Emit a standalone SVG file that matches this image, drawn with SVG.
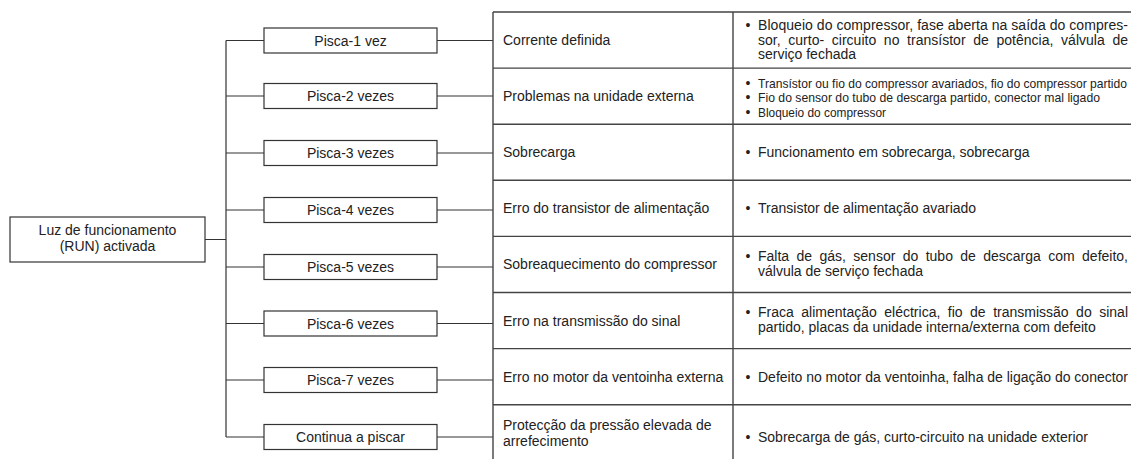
<svg xmlns="http://www.w3.org/2000/svg" width="1131" height="459" viewBox="0 0 1131 459">
<style>
  text { font-family: "Liberation Sans", Arial, sans-serif; font-size: 14px; fill: #222; }
  .c { text-anchor: middle; }
  .n { font-size: 13px; }
  .box { fill: #fff; stroke: #333; stroke-width: 1.2; }
  .ln { fill: none; stroke: #333; stroke-width: 1.2; }
  .tb { fill: none; stroke: #444; stroke-width: 1.4; }
</style>
<rect width="1131" height="459" fill="#fff"/>

<g id="connectors">
  <path class="ln" d="M205,239.5 H226 M226,40.5 V437 M226,40.5 H264 M226,96 H264 M226,153 H264 M226,210 H264 M226,267 H264 M226,323.5 H264 M226,380 H264 M226,437 H264"/>
  <path class="ln" d="M437,40.5 H493 M437,96 H493 M437,153 H493 M437,210 H493 M437,267 H493 M437,323.5 H493 M437,380 H493 M437,437 H493"/>
</g>

<g id="root">
  <rect class="box" x="10" y="217" width="195" height="45"/>
  <text class="c" x="107.5" y="235">Luz de funcionamento</text>
  <text class="c" x="107.5" y="250.5">(RUN) activada</text>
</g>

<g id="pisca1"><rect class="box" x="264" y="28" width="173" height="25"/><text class="c" x="350.5" y="45.5">Pisca-1 vez</text></g>
<g id="pisca2"><rect class="box" x="264" y="83.5" width="173" height="25"/><text class="c" x="350.5" y="101">Pisca-2 vezes</text></g>
<g id="pisca3"><rect class="box" x="264" y="140.5" width="173" height="25"/><text class="c" x="350.5" y="158">Pisca-3 vezes</text></g>
<g id="pisca4"><rect class="box" x="264" y="197.5" width="173" height="25"/><text class="c" x="350.5" y="215">Pisca-4 vezes</text></g>
<g id="pisca5"><rect class="box" x="264" y="254.5" width="173" height="25"/><text class="c" x="350.5" y="272">Pisca-5 vezes</text></g>
<g id="pisca6"><rect class="box" x="264" y="311" width="173" height="25"/><text class="c" x="350.5" y="328.5">Pisca-6 vezes</text></g>
<g id="pisca7"><rect class="box" x="264" y="367.5" width="173" height="25"/><text class="c" x="350.5" y="385">Pisca-7 vezes</text></g>
<g id="continua"><rect class="box" x="264" y="424.5" width="173" height="25"/><text class="c" x="350.5" y="442">Continua a piscar</text></g>

<g id="table">
  <path class="tb" d="M493,12 V459 M733,12 V459 M493,12 H1131 M493,68.1 H1131 M493,124.2 H1131 M493,180.3 H1131 M493,236.4 H1131 M493,292.5 H1131 M493,348.6 H1131 M493,404.7 H1131"/>
</g>

<g id="row1">
  <text x="503" y="45">Corrente definida</text>
  <text x="745.5" y="30">•</text>
  <text x="758" y="30" textLength="370" lengthAdjust="spacing">Bloqueio do compressor, fase aberta na saída do compres-</text>
  <text x="758" y="44.5" word-spacing="3.7" textLength="370" lengthAdjust="spacing">sor, curto- circuito no transístor de potência, válvula de</text>
  <text x="758" y="59">serviço fechada</text>
</g>
<g id="row2">
  <text x="503" y="101">Problemas na unidade externa</text>
  <text x="745.5" y="87.5">•</text>
  <text class="n" x="758" y="87.5" textLength="369" lengthAdjust="spacingAndGlyphs">Transístor ou fio do compressor avariados, fio do compressor partido</text>
  <text x="745.5" y="102">•</text>
  <text class="n" x="758" y="102" textLength="342" lengthAdjust="spacingAndGlyphs">Fio do sensor do tubo de descarga partido, conector mal ligado</text>
  <text x="745.5" y="116.5">•</text>
  <text class="n" x="758" y="116.5" textLength="128" lengthAdjust="spacingAndGlyphs">Bloqueio do compressor</text>
</g>
<g id="row3">
  <text x="503" y="157">Sobrecarga</text>
  <text x="745.5" y="157">•</text>
  <text x="758" y="157">Funcionamento em sobrecarga, sobrecarga</text>
</g>
<g id="row4">
  <text x="503" y="213">Erro do transistor de alimentação</text>
  <text x="745.5" y="213">•</text>
  <text x="758" y="213">Transistor de alimentação avariado</text>
</g>
<g id="row5">
  <text x="503" y="269">Sobreaquecimento do compressor</text>
  <text x="745.5" y="261">•</text>
  <text x="758" y="261" word-spacing="3.5" textLength="370" lengthAdjust="spacing">Falta de gás, sensor do tubo de descarga com defeito,</text>
  <text x="758" y="276">válvula de serviço fechada</text>
</g>
<g id="row6">
  <text x="503" y="325.5">Erro na transmissão do sinal</text>
  <text x="745.5" y="317">•</text>
  <text x="758" y="317" word-spacing="3.6" textLength="370" lengthAdjust="spacing">Fraca alimentação eléctrica, fio de transmissão do sinal</text>
  <text x="758" y="332">partido, placas da unidade interna/externa com defeito</text>
</g>
<g id="row7">
  <text x="503" y="381.5">Erro no motor da ventoinha externa</text>
  <text x="745.5" y="381.5">•</text>
  <text x="758" y="381.5" textLength="370" lengthAdjust="spacing">Defeito no motor da ventoinha, falha de ligação do conector</text>
</g>
<g id="row8">
  <text x="503" y="430">Protecção da pressão elevada de</text>
  <text x="503" y="445.5">arrefecimento</text>
  <text x="745.5" y="442">•</text>
  <text x="758" y="442">Sobrecarga de gás, curto-circuito na unidade exterior</text>
</g>
</svg>
